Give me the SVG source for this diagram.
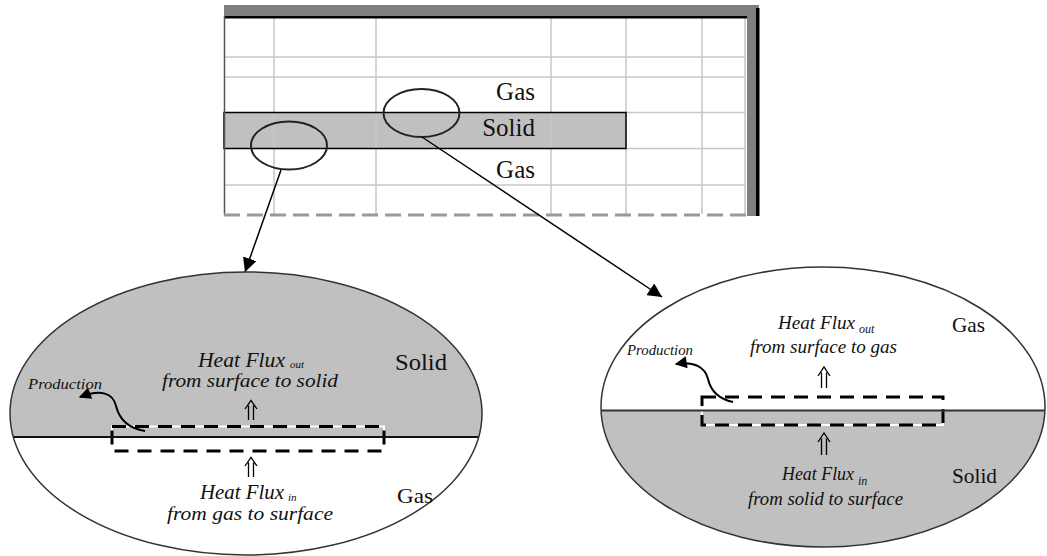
<svg xmlns="http://www.w3.org/2000/svg" width="1047" height="556" viewBox="0 0 1047 556">
<style>
.grid{stroke:#c6c6c6;stroke-width:1.5;fill:none}
.lbl{font-family:"Liberation Serif",serif;fill:#111}
.it{font-family:"Liberation Serif",serif;font-style:italic;fill:#111}
.conn{stroke:#000;stroke-width:1.5;fill:none}
.prod{stroke:#000;stroke-width:2;fill:none}
.box-w{fill:none;stroke:#fff;stroke-width:2}
.box-b{fill:none;stroke:#000;stroke-width:3;stroke-dasharray:14 9}
.uparr{stroke:#000;stroke-width:1.3;fill:none}
.big{stroke:#333;stroke-width:1.5}
</style>
<defs>
<marker id="ah" viewBox="0 0 10 10" refX="10" refY="5" markerWidth="14" markerHeight="14" markerUnits="userSpaceOnUse" orient="auto"><path d="M0,0 L10,5 L0,10 z" fill="#000"/></marker>
<marker id="ahs" viewBox="0 0 10 10" refX="9" refY="5" markerWidth="13" markerHeight="12" markerUnits="userSpaceOnUse" orient="auto"><path d="M0,0 L10,5 L0,10 z" fill="#000"/></marker>
<clipPath id="clipL"><ellipse cx="246" cy="413.5" rx="236" ry="141.5"/></clipPath>
<clipPath id="clipR"><ellipse cx="823" cy="407" rx="222" ry="140"/></clipPath>
</defs>
<rect width="1047" height="556" fill="#fff"/>

<g id="grid-domain">
<rect x="224" y="112.5" width="402" height="36" fill="#c0c0c0"/>
<g class="grid">
<path d="M224,57 H746 M224,77 H746 M626,112.5 H746 M626,148.5 H746 M224,185 H746"/>
<path d="M274,18 V214 M376,18 V214 M551,18 V214 M626,18 V214 M702,18 V214 M745,18 V214"/>
</g>
<rect x="224" y="112.5" width="402" height="36" fill="none" stroke="#000" stroke-width="1.5"/>
<rect x="224" y="5" width="535" height="11" fill="#808080"/>
<rect x="224" y="16" width="524" height="2.5" fill="#000"/>
<rect x="747" y="5" width="9" height="211" fill="#808080"/>
<rect x="756" y="8" width="3.5" height="208" fill="#000"/>
<line x1="224.5" y1="16" x2="224.5" y2="215" stroke="#555" stroke-width="1.5"/>
<line x1="224" y1="215" x2="747" y2="215" stroke="#999" stroke-width="3" stroke-dasharray="16 7"/>
<text class="lbl" x="535" y="100" font-size="25" text-anchor="end">Gas</text>
<text class="lbl" x="535" y="136" font-size="25" text-anchor="end">Solid</text>
<text class="lbl" x="535" y="178" font-size="25" text-anchor="end">Gas</text>
<ellipse cx="289" cy="145.5" rx="38" ry="24" fill="none" stroke="#222" stroke-width="2"/>
<ellipse cx="421.5" cy="113" rx="38" ry="24" fill="none" stroke="#222" stroke-width="2"/>
</g>

<g id="connectors">
<line class="conn" x1="281" y1="170" x2="245" y2="272" marker-end="url(#ah)"/>
<line class="conn" x1="422" y1="137" x2="662" y2="297" marker-end="url(#ah)"/>
</g>

<g id="zoom-left">
<ellipse cx="246" cy="413.5" rx="236" ry="141.5" fill="#fff"/>
<rect x="0" y="260" width="500" height="177" fill="#c0c0c0" clip-path="url(#clipL)"/>
<rect class="box-w" x="112" y="426.5" width="272" height="24.5"/>
<rect class="box-b" x="112" y="426.5" width="272" height="24.5"/>
<line x1="13" y1="437" x2="479" y2="437" stroke="#111" stroke-width="2"/>
<ellipse class="big" cx="246" cy="413.5" rx="236" ry="141.5" fill="none"/>
<path class="prod" d="M145,431 C126,428 119,418 116,406 C113,393 101,389 80,397" marker-end="url(#ahs)"/>
<text class="it" x="28" y="389" font-size="15" textLength="74" lengthAdjust="spacingAndGlyphs">Production</text>
<text class="it" x="198" y="367" font-size="20" textLength="87" lengthAdjust="spacingAndGlyphs">Heat Flux</text>
<text class="it" x="290" y="368" font-size="11">out</text>
<text class="it" x="162" y="387" font-size="18" textLength="176" lengthAdjust="spacingAndGlyphs">from surface to solid</text>
<path class="uparr" d="M245,409 L251,400.5 L257,409 M248.5,405.5 V420 M253.5,405.5 V420"/>
<path class="uparr" d="M245,466 L251,457.5 L257,466 M248.5,462.5 V477 M253.5,462.5 V477"/>
<text class="it" x="200" y="499" font-size="20" textLength="84" lengthAdjust="spacingAndGlyphs">Heat Flux</text>
<text class="it" x="288" y="501" font-size="11">in</text>
<text class="it" x="167" y="520" font-size="18" textLength="166" lengthAdjust="spacingAndGlyphs">from gas to surface</text>
<text class="lbl" x="395" y="370" font-size="23" textLength="52" lengthAdjust="spacingAndGlyphs">Solid</text>
<text class="lbl" x="397" y="503" font-size="22" textLength="36" lengthAdjust="spacingAndGlyphs">Gas</text>
</g>

<g id="zoom-right">
<ellipse cx="823" cy="407" rx="222" ry="140" fill="#fff"/>
<rect x="590" y="410.5" width="460" height="150" fill="#c0c0c0" clip-path="url(#clipR)"/>
<rect class="box-w" x="702" y="397" width="241" height="28"/>
<rect class="box-b" x="702" y="397" width="241" height="28"/>
<line x1="601" y1="410.5" x2="1045" y2="410.5" stroke="#333" stroke-width="2"/>
<ellipse class="big" cx="823" cy="407" rx="222" ry="140" fill="none"/>
<path class="prod" d="M733,402 C719,399 711,392 708,379 C705,367 694,361 676,364" marker-end="url(#ahs)"/>
<text class="it" x="627" y="355" font-size="14" textLength="66" lengthAdjust="spacingAndGlyphs">Production</text>
<text class="it" x="778" y="329" font-size="18" textLength="77" lengthAdjust="spacingAndGlyphs">Heat Flux</text>
<text class="it" x="859" y="333" font-size="12">out</text>
<text class="it" x="750" y="353" font-size="18" textLength="147" lengthAdjust="spacingAndGlyphs">from surface to gas</text>
<path class="uparr" d="M818,376 L824,367 L830,376 M821.5,372.5 V388 M826.5,372.5 V388"/>
<path class="uparr" d="M818,442 L824,433 L830,442 M821.5,438.5 V455 M826.5,438.5 V455"/>
<text class="it" x="782" y="480" font-size="18" textLength="72" lengthAdjust="spacingAndGlyphs">Heat Flux</text>
<text class="it" x="858" y="485" font-size="12">in</text>
<text class="it" x="748" y="505" font-size="18" textLength="155" lengthAdjust="spacingAndGlyphs">from solid to surface</text>
<text class="lbl" x="952" y="332" font-size="22" textLength="33" lengthAdjust="spacingAndGlyphs">Gas</text>
<text class="lbl" x="952" y="483" font-size="22" textLength="45" lengthAdjust="spacingAndGlyphs">Solid</text>
</g>
</svg>
